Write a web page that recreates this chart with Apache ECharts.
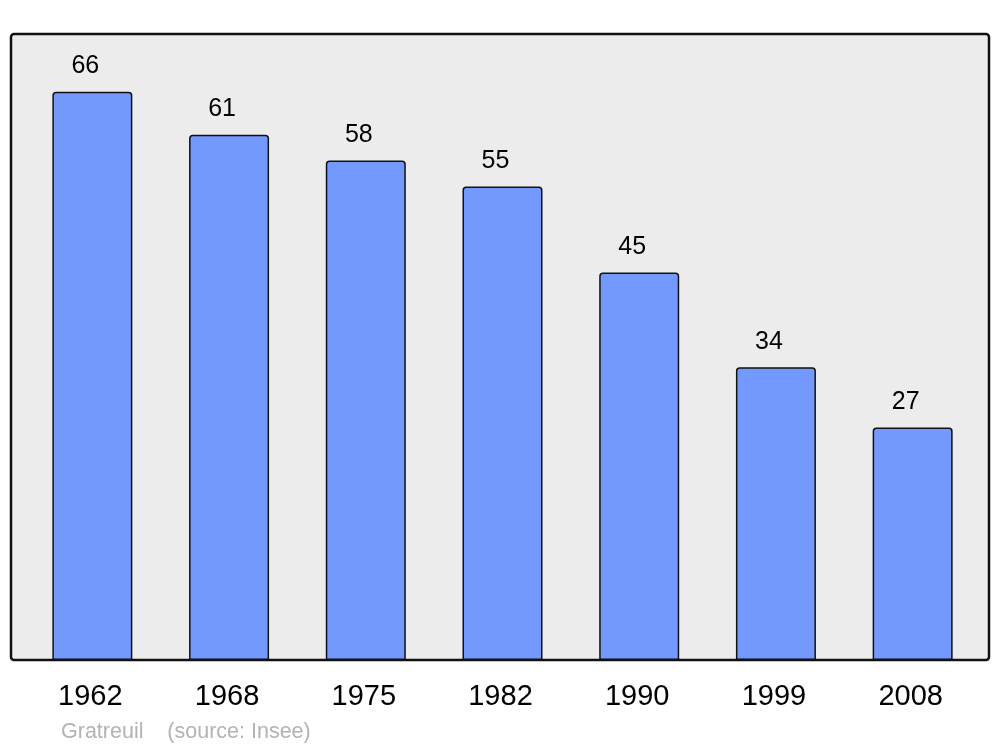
<!DOCTYPE html>
<html>
<head>
<meta charset="utf-8">
<script src="https://cdn.jsdelivr.net/npm/echarts@6/dist/echarts.min.js"></script>
<style>html,body{margin:0;padding:0;background:#fff}#c{width:1000px;height:747px}</style>
</head>
<body>
<div id="c"></div>
<script>
const years = ['1962', '1968', '1975', '1982', '1990', '1999', '2008'];
const population = [66, 61, 58, 55, 45, 34, 27];
const sourceText = 'Gratreuil    (source: Insee)';

const chart = echarts.init(document.getElementById('c'), null, {renderer: 'canvas'});
chart.setOption({
  animation: false,
  backgroundColor: '#ffffff',
  textStyle: {fontFamily: 'Liberation Sans, Arial, sans-serif'},
  title: {
    text: sourceText,
    left: 56, top: 716,
    textStyle: {fontSize: 21.5, fontWeight: 'normal', color: '#b3b3b3', fontFamily: 'Liberation Sans, Arial, sans-serif'}
  },
  graphic: [{
    type: 'rect', z: -10, silent: true,
    shape: {x: 11, y: 34, width: 978, height: 626, r: 3},
    style: {fill: '#ececec', stroke: '#111111', lineWidth: 2.5}
  }],
  grid: {left: 24, right: 19, top: 34, bottom: 87},
  xAxis: {
    type: 'category', data: years,
    axisLine: {show: false}, axisTick: {show: false},
    axisLabel: {fontSize: 29, color: '#000', margin: 22, padding: [0, 4, 0, 0], fontFamily: 'Liberation Sans, Arial, sans-serif'}
  },
  yAxis: {type: 'value', min: 0, max: 72.7, show: false, splitLine: {show: false}},
  series: [{
    type: 'bar', data: population, barWidth: 80,
    itemStyle: {color: '#7399ff', borderColor: '#111111', borderWidth: 1.5, borderRadius: [3, 3, 0, 0]},
    label: {show: true, position: 'top', distance: 13, offset: [-7, 0], fontSize: 25, color: '#000', fontFamily: 'Liberation Sans, Arial, sans-serif'}
  }]
});
</script>
</body>
</html>
